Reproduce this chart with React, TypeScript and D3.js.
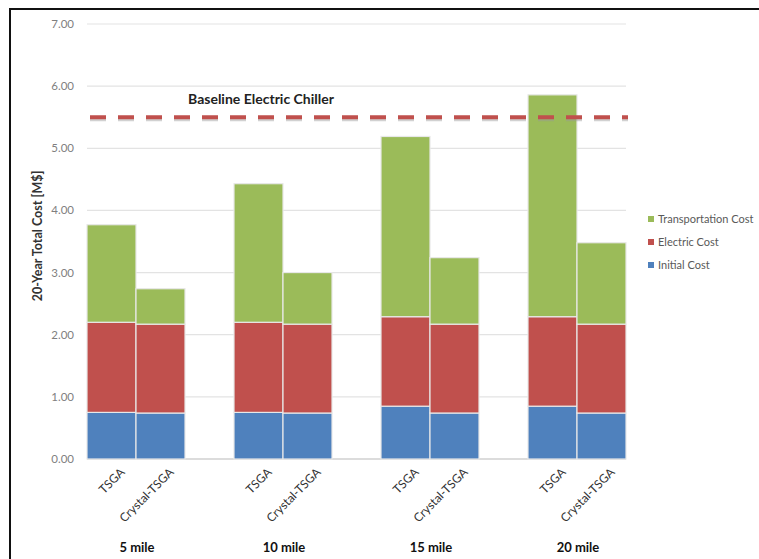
import React from "react";
import * as d3 from "d3";

const groups = ["5 mile", "10 mile", "15 mile", "20 mile"];
const systems = ["TSGA", "Crystal-TSGA"];
const initialCost = [0.75, 0.74, 0.75, 0.74, 0.85, 0.74, 0.85, 0.74];
const electricCost = [1.45, 1.43, 1.45, 1.43, 1.44, 1.43, 1.44, 1.43];
const transportCost = [1.57, 0.57, 2.23, 0.83, 2.9, 1.07, 3.57, 1.31];
const yTicks = [0, 1, 2, 3, 4, 5, 6, 7];
const baselineValue = 5.5;
const baselineLabel = "Baseline Electric Chiller";
const seriesNames = ["Initial Cost", "Electric Cost", "Transportation Cost"];
const seriesColors = ["#4F81BD", "#C0504D", "#9BBB59"];

export default function App() {
  const W = 759, H = 559;
  const left = 87, right = 626, top = 24, bottom = 459;
  const font = "Lato, 'Open Sans', sans-serif";

  const y = d3.scaleLinear().domain([0, 7]).range([bottom, top]);
  const xg = d3.scaleBand<string>().domain(groups).range([left, right]).paddingInner(1 / 3).paddingOuter(0);
  const xs = d3.scaleBand<string>().domain(systems).range([0, xg.bandwidth()]).padding(0);

  const rows = groups.flatMap((g, gi) =>
    systems.map((s, si) => {
      const i = gi * 2 + si;
      return { g, s, i, "Initial Cost": initialCost[i], "Electric Cost": electricCost[i], "Transportation Cost": transportCost[i] };
    })
  );
  const stack = d3.stack<any>().keys(seriesNames);
  const stacked = stack(rows);

  const legendItems = [...seriesNames].reverse();

  return (
    <svg width={W} height={H} style={{ position: "absolute", left: 0, top: 0, background: "#fff" }}>
      <rect x={0} y={0} width={W} height={H} fill="#fff" />
      <rect x={10} y={9} width={W + 20} height={H + 20} fill="none" stroke="#111" strokeWidth={2} />
      {yTicks.map((t) => (
        <g key={t}>
          <line x1={left} x2={right} y1={y(t)} y2={y(t)} stroke={t === 0 ? "#D0D0D0" : "#E3E3E3"} strokeWidth={t === 0 ? 1.5 : 1.2} />
          <text x={74} y={y(t)} dy="0.35em" textAnchor="end" fontFamily={font} fontSize={11.5} fill="#7F7F7F">
            {t.toFixed(2)}
          </text>
        </g>
      ))}
      {stacked.map((layer, li) => (
        <g key={layer.key} fill={seriesColors[li]}>
          {layer.map((d, j) => {
            const r = rows[j];
            const x0 = (xg(r.g) as number) + (xs(r.s) as number);
            return (
              <rect key={j} x={x0} y={y(d[1])} width={xs.bandwidth()} height={y(d[0]) - y(d[1])} stroke="#E8E8E8" strokeWidth={1.2} />
            );
          })}
        </g>
      ))}
      <line x1={left + 3} x2={right + 2} y1={y(baselineValue) + 2} y2={y(baselineValue) + 2} stroke="#999" strokeOpacity={0.45} strokeWidth={4} strokeDasharray="16 12" />
      <line x1={left + 3} x2={right + 2} y1={y(baselineValue)} y2={y(baselineValue)} stroke="#C0504D" strokeWidth={4} strokeDasharray="16 12" />
      <text x={261} y={y(baselineValue) - 13} textAnchor="middle" fontFamily={font} fontWeight="bold" fontSize={14} fill="#222">
        {baselineLabel}
      </text>
      {rows.map((r) => {
        const cx = (xg(r.g) as number) + (xs(r.s) as number) + xs.bandwidth() / 2;
        return (
          <text key={r.i} transform={`translate(${cx + 11},${bottom + 11}) rotate(-45)`} textAnchor="end" dy="0.35em" fontFamily={font} fontSize={12} fill="#333">
            {r.s}
          </text>
        );
      })}
      {groups.map((g) => (
        <text key={g} x={(xg(g) as number) + xg.bandwidth() / 2 + 1} y={547} dy="0.35em" textAnchor="middle" fontFamily={font} fontWeight="bold" fontSize={13} fill="#111">
          {g}
        </text>
      ))}
      <text transform={`translate(38,236) rotate(-90)`} textAnchor="middle" dy="0.35em" fontFamily={font} fontWeight="bold" fontSize={12.5} fill="#333">
        20-Year Total Cost [M$]
      </text>
      {legendItems.map((n, i) => {
        const ci = seriesNames.indexOf(n);
        const ly = 219 + i * 23;
        return (
          <g key={n}>
            <rect x={648} y={ly - 3} width={6} height={6} fill={seriesColors[ci]} />
            <text x={658} y={ly} dy="0.35em" fontFamily={font} fontSize={11} fill="#595959">
              {n}
            </text>
          </g>
        );
      })}
    </svg>
  );
}
